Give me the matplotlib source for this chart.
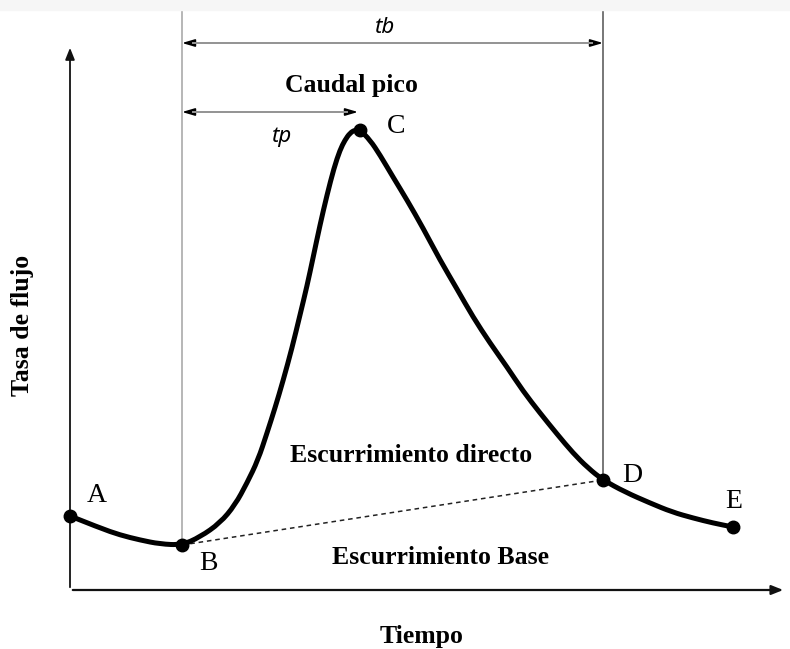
import matplotlib.pyplot as plt
from matplotlib.patches import Rectangle, PathPatch
from matplotlib.path import Path

# hydrograph curve (time, flow)
tiempo = [0, 3, 5, 7, 9, 11.2,
          13, 15, 16.5, 17.7, 18.8, 19.7, 20.5, 21.3, 22.2, 23, 23.7, 24.3, 25, 25.7,
          26.4, 27, 27.5, 28, 28.5, 29,
          30, 31, 32.3, 33.7, 35.3, 37, 38.7, 40.3, 42, 43.7, 45.3, 47, 48.7, 50.3,
          51.8, 53.3,
          55.5, 58, 60.2, 62.3, 64.3, 66.3]
caudal = [7.4, 6.2, 5.5, 5.0, 4.6, 4.5,
          5.3, 6.7, 8.5, 10.7, 13.0, 15.7, 18.2, 20.9, 24.2, 27.5, 30.4, 33.2, 36.5, 39.5,
          42.2, 44.0, 45.0, 45.7, 46.0, 46.0,
          45.0, 43.5, 41.3, 39.0, 36.2, 33.0, 30.1, 27.3, 24.7, 22.3, 19.9, 17.7, 15.6, 13.7,
          12.2, 11.0,
          9.8, 8.7, 7.8, 7.2, 6.7, 6.3]

puntos = ["A", "B", "C", "D", "E"]
t_puntos = [0, 11.2, 29, 53.3, 66.3]
q_puntos = [7.4, 4.5, 46.0, 11.0, 6.3]

serif = "Liberation Serif"

fig = plt.figure(figsize=(7.9, 6.49), dpi=100)
ax = fig.add_axes([0, 0, 1, 1])
ax.set_xlim(-7, 72)
ax.set_ylim(-5.9, 59)
ax.axis("off")

# faint strip at the very top
fig.patches.append(Rectangle((0, 0.985), 1, 0.015, transform=fig.transFigure,
                             color="#f6f6f6", zorder=0))

# axes with arrows
ax.annotate("", xy=(0, 54.5), xytext=(0, 0),
            arrowprops=dict(arrowstyle="-|>,head_length=0.7,head_width=0.28",
                            color="#111111", lw=1.3))
ax.annotate("", xy=(71.6, 0), xytext=(0, 0),
            arrowprops=dict(arrowstyle="-|>,head_length=0.7,head_width=0.28",
                            color="#111111", lw=1.6))

# vertical guide lines at B and D
ax.plot([t_puntos[1], t_puntos[1]], [q_puntos[1], 58], color="#aaaaaa", lw=1.2, zorder=1)
ax.plot([t_puntos[3], t_puntos[3]], [q_puntos[3], 58], color="#777777", lw=1.4, zorder=1)

# tb and tp dimension arrows: black heads, grey shaft
flecha = dict(arrowstyle="<|-|>,head_length=0.75,head_width=0.22",
              color="black", lw=1.2, shrinkA=0, shrinkB=0)
for t0, t1, q in [(t_puntos[1], t_puntos[3], 54.7), (t_puntos[1], 28.8, 47.8)]:
    ax.annotate("", xy=(t1, q), xytext=(t0, q), arrowprops=flecha)
    ax.plot([t0 + 1.1, t1 - 1.1], [q, q], color="#999999", lw=1.4, zorder=3)

# base flow separation
ax.plot([t_puntos[1], t_puntos[3]], [q_puntos[1], q_puntos[3]], color="#222222",
        lw=1.1, ls=(0, (3, 2.5)), zorder=2)

# hydrograph, smoothed with quadratic bezier through midpoints
verts = [(tiempo[0], caudal[0])]
codes = [Path.MOVETO]
for i in range(1, len(tiempo) - 1):
    verts += [(tiempo[i], caudal[i]),
              ((tiempo[i] + tiempo[i + 1]) / 2, (caudal[i] + caudal[i + 1]) / 2)]
    codes += [Path.CURVE3, Path.CURVE3]
verts.append((tiempo[-1], caudal[-1]))
codes.append(Path.LINETO)
ax.add_patch(PathPatch(Path(verts, codes), facecolor="none", edgecolor="black",
                       lw=3.6, joinstyle="round", capstyle="round", zorder=3))
ax.plot(t_puntos, q_puntos, "o", color="black", ms=9, zorder=4)

# point labels
offs = [(2.7, 2.0), (2.6, -1.8), (3.6, 0.4), (2.9, 0.4), (0.1, 2.6)]
for nombre, t, q, (dx, dy) in zip(puntos, t_puntos, q_puntos, offs):
    ax.text(t + dx, q + dy, nombre, fontsize=20, family=serif,
            ha="center", va="center")

ax.text(31.4, 56.3, "tb", fontsize=16, family="Noto Sans", style="italic",
        ha="center", va="center")
ax.text(21.1, 45.4, "tp", fontsize=16, family="Noto Sans", style="italic",
        ha="center", va="center")

ax.text(28.1, 50.5, "Caudal pico", fontsize=18.5, family=serif, weight="bold",
        ha="center", va="center")
ax.text(34.1, 13.5, "Escurrimiento directo", fontsize=18.5, family=serif, weight="bold",
        ha="center", va="center")
ax.text(37.1, 3.3, "Escurrimiento Base", fontsize=18.5, family=serif, weight="bold",
        ha="center", va="center")
ax.text(35.2, -4.6, "Tiempo", fontsize=18.5, family=serif, weight="bold",
        ha="center", va="center")
ax.text(-4.7, 26.5, "Tasa de flujo", fontsize=18.5, family=serif, weight="bold",
        ha="center", va="center", rotation=90)

fig.savefig("out.png", dpi=100)
